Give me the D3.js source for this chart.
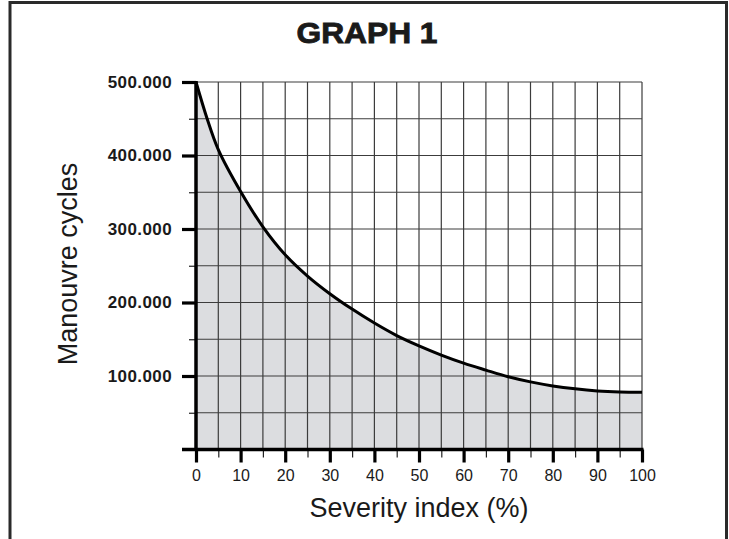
<!DOCTYPE html>
<html>
<head>
<meta charset="utf-8">
<script src="https://cdn.jsdelivr.net/npm/d3@7"></script>
<style>
  html, body { margin: 0; padding: 0; background: #fff; }
  svg { display: block; font-family: "Liberation Sans", Arial, Helvetica, sans-serif; }
</style>
</head>
<body>
<svg id="chart" width="729" height="539"></svg>
<script>
// ---- data ----
const severity = [0, 2.5, 5, 10, 15, 20, 25, 30, 35, 40, 45, 50, 55, 60, 65, 70, 75, 80, 85, 90, 95, 100];
const cycles   = [500000, 450000, 408000, 351000, 303000, 265000, 236000, 212000, 191000, 172000, 155000, 141000, 128500, 117500, 108000, 99000, 92000, 86500, 82500, 79700, 78300, 77900];
const xMajorTicks = [0, 10, 20, 30, 40, 50, 60, 70, 80, 90, 100];
const xMinorTicks = [5, 15, 25, 35, 45, 55, 65, 75, 85, 95];
const yMajorTicks = [100000, 200000, 300000, 400000, 500000];
const yMinorTicks = [50000, 150000, 250000, 350000, 450000];
const titleText = "GRAPH 1";
const xTitle = "Severity index (%)";
const yTitle = "Manouvre cycles";

// ---- layout ----
const svg = d3.select("#chart");
const x = d3.scaleLinear().domain([0, 100]).range([196, 642]);
const y = d3.scaleLinear().domain([0, 500000]).range([449.5, 82]);
const locale = d3.formatLocale({decimal: ",", thousands: ".", grouping: [3], currency: ["", ""]});
const fmt = locale.format(",");

// outer frame
svg.append("path")
  .attr("d", "M10,545 L10,2.5 L726.5,2.5 L726.5,545")
  .attr("fill", "none").attr("stroke", "#2a2a2a").attr("stroke-width", 3);

// title
svg.append("text")
  .attr("x", 367).attr("y", 43)
  .attr("text-anchor", "middle")
  .attr("font-size", 30).attr("font-weight", "bold")
  .attr("textLength", 141).attr("lengthAdjust", "spacingAndGlyphs")
  .attr("fill", "#1a1a1a").attr("stroke", "#1a1a1a").attr("stroke-width", 0.9)
  .text(titleText);

// area fill
const pts = severity.map((s, i) => [s, cycles[i]]);
const curve = d3.curveCatmullRom.alpha(0.5);
svg.append("path")
  .datum(pts)
  .attr("fill", "#dcdde0")
  .attr("d", d3.area().x(d => x(d[0])).y0(y(0)).y1(d => y(d[1])).curve(curve));

// grid
const gridX = xMajorTicks.concat(xMinorTicks);
svg.append("g").selectAll("line").data(gridX).join("line")
  .attr("x1", d => x(d)).attr("x2", d => x(d))
  .attr("y1", y(500000)).attr("y2", y(0))
  .attr("stroke", "#3c3c3c").attr("stroke-width", 1.2);
const gridY = yMajorTicks.concat(yMinorTicks);
svg.append("g").selectAll("line").data(gridY).join("line")
  .attr("x1", x(0)).attr("x2", x(100))
  .attr("y1", d => y(d)).attr("y2", d => y(d))
  .attr("stroke", "#3c3c3c").attr("stroke-width", 1.2);

// curve
svg.append("path")
  .datum(pts)
  .attr("fill", "none").attr("stroke", "#000").attr("stroke-width", 3)
  .attr("d", d3.line().x(d => x(d[0])).y(d => y(d[1])).curve(curve));

// x axis minor ticks
svg.append("g").attr("transform", `translate(0,${y(0)})`)
  .call(d3.axisBottom(x).tickValues(xMinorTicks).tickSize(8).tickFormat(""))
  .call(g => g.select(".domain").remove())
  .call(g => g.selectAll(".tick line").attr("stroke", "#222").attr("stroke-width", 1.2));

// x axis major
svg.append("g").attr("transform", `translate(0,${y(0)})`)
  .call(d3.axisBottom(x).tickValues(xMajorTicks).tickSize(13).tickPadding(7).tickSizeOuter(0))
  .call(g => g.select(".domain").remove())
  .call(g => g.selectAll(".tick line").attr("stroke", "#000").attr("stroke-width", 3.2))
  .call(g => g.selectAll(".tick text").attr("font-size", 16).attr("fill", "#1a1a1a")
    .attr("font-family", "Liberation Sans, Arial, sans-serif"));

// y axis minor ticks
svg.append("g").attr("transform", `translate(${x(0)},0)`)
  .call(d3.axisLeft(y).tickValues(yMinorTicks).tickSize(7).tickFormat(""))
  .call(g => g.select(".domain").remove())
  .call(g => g.selectAll(".tick line").attr("stroke", "#222").attr("stroke-width", 1.2));

// y axis major
svg.append("g").attr("transform", `translate(${x(0)},0)`)
  .call(d3.axisLeft(y).tickValues(yMajorTicks).tickSize(14).tickPadding(10).tickFormat(fmt))
  .call(g => g.select(".domain").remove())
  .call(g => g.selectAll(".tick line").attr("stroke", "#000").attr("stroke-width", 3.2))
  .call(g => g.selectAll(".tick text").attr("font-size", 17).attr("font-weight", "bold")
    .attr("letter-spacing", 0.4).attr("fill", "#1a1a1a")
    .attr("font-family", "Liberation Sans, Arial, sans-serif"));

// axis lines
svg.append("line")
  .attr("x1", x(0)).attr("x2", x(0)).attr("y1", y(500000) - 1).attr("y2", y(0) + 1.5)
  .attr("stroke", "#000").attr("stroke-width", 3.5);
svg.append("line")
  .attr("x1", 182).attr("x2", x(100) + 1.5).attr("y1", y(0)).attr("y2", y(0))
  .attr("stroke", "#000").attr("stroke-width", 3.5);

// axis titles
svg.append("text")
  .attr("x", 419).attr("y", 517)
  .attr("text-anchor", "middle").attr("font-size", 27).attr("fill", "#1a1a1a")
  .text(xTitle);
svg.append("text")
  .attr("transform", "translate(76.5,264) rotate(-90)")
  .attr("text-anchor", "middle").attr("font-size", 27).attr("fill", "#1a1a1a")
  .text(yTitle);
</script>
</body>
</html>
